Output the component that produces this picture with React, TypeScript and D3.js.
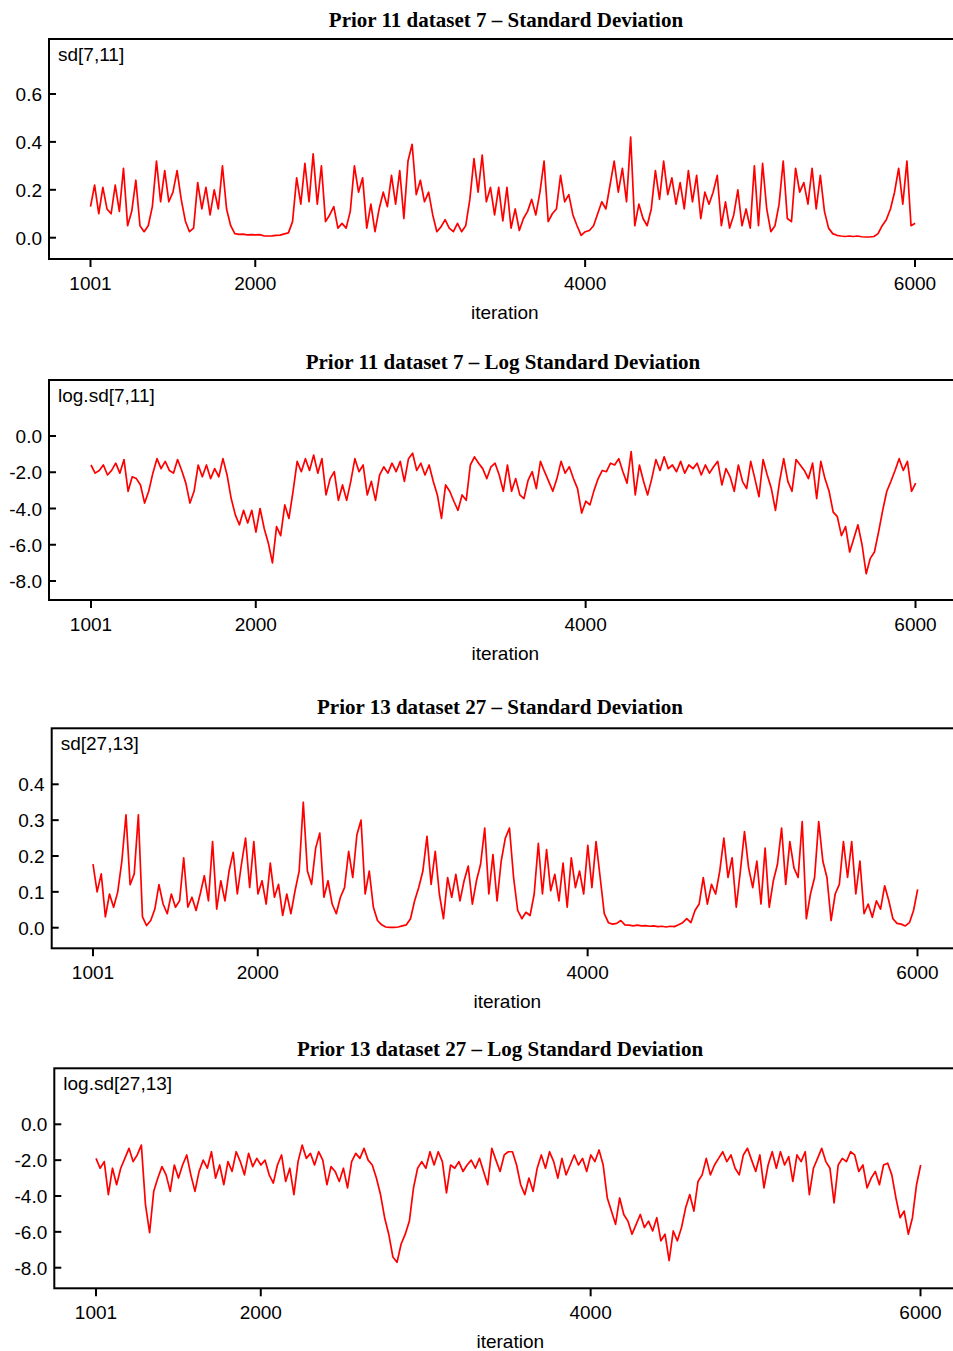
import React, { useRef, useEffect } from "react";
import * as d3 from "d3";

// iterations 1001..6001, one value read every 25 iterations
const START = 1001;
const STEP = 25;
const xTicks = [1001, 2000, 4000, 6000];
const xTickLabels = ["1001", "2000", "4000", "6000"];

const sdTicks7 = [0, 0.2, 0.4, 0.6];
const sdTickLabels7 = ["0.0", "0.2", "0.4", "0.6"];
const sdTicks27 = [0, 0.1, 0.2, 0.3, 0.4];
const sdTickLabels27 = ["0.0", "0.1", "0.2", "0.3", "0.4"];
const logTicks = [0, -2, -4, -6, -8];
const logTickLabels = ["0.0", "-2.0", "-4.0", "-6.0", "-8.0"];

const sd7_11 = [
  0.13, 0.22, 0.1, 0.21, 0.12, 0.1, 0.22, 0.11, 0.29, 0.05,
  0.11, 0.24, 0.05, 0.025, 0.05, 0.13, 0.32, 0.15, 0.28, 0.15,
  0.19, 0.28, 0.16, 0.07, 0.025, 0.04, 0.23, 0.12, 0.21, 0.095,
  0.2, 0.12, 0.3, 0.12, 0.05, 0.017, 0.014, 0.015, 0.012, 0.013,
  0.012, 0.013, 0.008, 0.007, 0.008, 0.01, 0.011, 0.016, 0.02, 0.067,
  0.25, 0.14, 0.31, 0.15, 0.35, 0.14, 0.3, 0.067, 0.095, 0.13,
  0.04, 0.06, 0.04, 0.11, 0.3, 0.19, 0.25, 0.04, 0.14, 0.025,
  0.12, 0.19, 0.13, 0.26, 0.14, 0.28, 0.08, 0.32, 0.39, 0.18,
  0.24, 0.15, 0.19, 0.095, 0.025, 0.045, 0.075, 0.04, 0.025, 0.06,
  0.025, 0.05, 0.16, 0.33, 0.19, 0.345, 0.15, 0.21, 0.095, 0.21,
  0.07,
  0.21, 0.04, 0.12, 0.03, 0.08, 0.11, 0.16, 0.095, 0.19, 0.32,
  0.067, 0.1, 0.12, 0.26, 0.15, 0.18, 0.095, 0.05, 0.01, 0.025,
  0.03, 0.05, 0.1, 0.15, 0.12, 0.22, 0.32, 0.19, 0.29, 0.15,
  0.42, 0.05, 0.14, 0.08, 0.05, 0.12, 0.28, 0.16, 0.32, 0.18,
  0.25, 0.14, 0.23, 0.12, 0.28, 0.15, 0.26, 0.08, 0.19, 0.14,
  0.19, 0.26, 0.05, 0.15, 0.04, 0.095, 0.2, 0.05, 0.12, 0.04,
  0.3, 0.05, 0.31, 0.12, 0.025, 0.05, 0.14, 0.32, 0.08, 0.067,
  0.29, 0.19, 0.23, 0.14, 0.29, 0.12, 0.26, 0.11, 0.04, 0.017,
  0.01, 0.007, 0.005, 0.007, 0.005, 0.007, 0.004, 0.003, 0.003, 0.005,
  0.017, 0.05, 0.075, 0.12, 0.19, 0.29, 0.14, 0.32, 0.05, 0.06,
];

const logsd7_11 = [
  -1.6, -2.05, -1.9, -1.6, -2.15, -1.9, -1.5, -2.05, -1.3, -3.05,
  -2.25, -2.35, -2.7, -3.7, -3.05, -2.05, -1.25, -1.8, -1.4, -1.9,
  -2.05, -1.3, -1.9, -2.6, -3.7, -3.05, -1.6, -2.25, -1.6, -2.35,
  -1.8, -2.25, -1.25, -2.15, -3.45, -4.35, -4.9, -4.1, -4.8, -4.1,
  -5.3, -4.0, -5.1, -5.9, -7.0, -5.0, -5.5, -3.8, -4.55, -3.05,
  -1.4, -1.97, -1.25, -1.9, -1.05, -2.05, -1.25, -3.25, -2.35, -1.97,
  -3.55, -2.7, -3.55, -2.5, -1.25, -1.97, -1.6, -3.25, -2.5, -3.55,
  -2.15, -1.7, -2.05, -1.5, -1.97, -1.4, -2.5, -1.25, -0.95, -1.9,
  -1.5, -2.15, -1.6, -2.5, -3.25, -4.55, -2.7, -3.05, -3.6, -4.1,
  -3.25, -3.55, -1.6, -1.15, -1.5, -1.8, -2.35, -1.7, -1.5, -2.15,
  -3.05,
  -1.6, -3.05, -2.35, -3.25, -3.45, -2.45, -1.97, -2.9, -1.4, -1.97,
  -2.5, -3.05, -2.35, -1.4, -2.05, -1.7, -2.35, -2.9, -4.25, -3.6,
  -3.8, -3.0, -2.35, -1.9, -1.97, -1.5, -1.6, -1.25, -1.97, -2.6,
  -0.86, -3.25, -1.6, -2.5, -3.25, -2.35, -1.3, -1.9, -1.15, -1.8,
  -1.6, -1.97, -1.4, -2.05, -1.6, -1.8, -1.5, -2.15, -1.6, -2.05,
  -1.7, -1.4, -2.7, -1.8, -2.25, -3.05, -1.6, -2.5, -2.9, -1.4,
  -2.35, -3.35, -1.3, -2.15, -2.9, -4.1, -2.5, -1.25, -2.5, -3.05,
  -1.3, -1.6, -1.9, -2.35, -1.5, -3.45, -1.4, -2.35, -3.05, -4.2,
  -4.45, -5.5, -5.0, -6.4, -5.65, -4.9, -6.0, -7.6, -6.75, -6.4,
  -5.3, -4.1, -3.05, -2.5, -1.9, -1.25, -1.9, -1.4, -3.05, -2.6,
];

const sd27_13 = [
  0.177, 0.1, 0.15, 0.03, 0.094, 0.057, 0.1, 0.186, 0.315, 0.12,
  0.15, 0.315, 0.03, 0.006, 0.02, 0.052, 0.12, 0.066, 0.039, 0.094,
  0.057, 0.075, 0.195, 0.057, 0.085, 0.048, 0.094, 0.145, 0.075, 0.24,
  0.052, 0.131, 0.075, 0.158, 0.21, 0.094, 0.177, 0.25, 0.112, 0.24,
  0.094, 0.131, 0.066, 0.18, 0.085, 0.121, 0.034, 0.094, 0.039, 0.103,
  0.158, 0.35, 0.158, 0.121, 0.222, 0.264, 0.085, 0.131, 0.066, 0.039,
  0.085, 0.112, 0.213, 0.14, 0.259, 0.3, 0.094, 0.158, 0.057, 0.02,
  0.008, 0.002, 0.001, 0.001, 0.002, 0.005, 0.008, 0.025, 0.075, 0.112,
  0.158, 0.255, 0.121, 0.213, 0.094, 0.025, 0.14, 0.085, 0.149, 0.075,
  0.131, 0.172, 0.066, 0.131, 0.177, 0.278, 0.094, 0.204, 0.075, 0.186,
  0.25,
  0.278, 0.14, 0.048, 0.025, 0.043, 0.034, 0.094, 0.235, 0.094, 0.218,
  0.103, 0.149, 0.075, 0.18, 0.057, 0.195, 0.112, 0.158, 0.094, 0.23,
  0.112, 0.24, 0.14, 0.039, 0.014, 0.01, 0.012, 0.02, 0.008, 0.007,
  0.005, 0.007, 0.005, 0.006, 0.004, 0.005, 0.003, 0.004, 0.002, 0.004,
  0.003, 0.008, 0.014, 0.025, 0.014, 0.048, 0.066, 0.14, 0.066, 0.121,
  0.094, 0.158, 0.25, 0.14, 0.195, 0.057, 0.158, 0.268, 0.167, 0.112,
  0.186, 0.066, 0.222, 0.057, 0.131, 0.177, 0.278, 0.121, 0.24, 0.167,
  0.14, 0.296, 0.025, 0.094, 0.14, 0.296, 0.186, 0.14, 0.02, 0.094,
  0.121, 0.24, 0.14, 0.24, 0.094, 0.186, 0.039, 0.066, 0.029, 0.075,
  0.052, 0.117, 0.075, 0.025, 0.012, 0.01, 0.005, 0.014, 0.048, 0.107,
];

const logsd27_13 = [
  -1.9, -2.45, -2.08, -3.92, -2.45, -3.37, -2.45, -1.9, -1.34, -2.08,
  -1.71, -1.16, -4.48, -6.05, -3.74, -3.0, -2.36, -2.82, -3.74, -2.27,
  -3.0, -2.27, -1.71, -2.82, -3.74, -2.63, -2.0, -2.45, -1.53, -3.0,
  -2.27, -3.37, -2.08, -2.63, -1.53, -2.08, -2.82, -1.62, -2.36, -1.9,
  -2.27, -2.0, -2.82, -3.28, -2.27, -1.71, -3.19, -2.45, -3.92, -2.08,
  -1.16, -1.9, -1.62, -2.27, -1.53, -2.0, -3.37, -2.36, -2.63, -3.19,
  -2.45, -3.55, -2.08, -1.62, -1.9, -1.34, -2.0, -2.27, -3.0, -3.92,
  -5.21, -6.13, -7.4, -7.7, -6.68, -6.13, -5.4, -3.55, -2.45, -2.08,
  -2.45, -1.53, -2.27, -1.53, -2.08, -3.83, -2.27, -2.45, -2.08, -2.63,
  -2.27, -2.0, -2.45, -1.9, -2.63, -3.37, -1.34, -2.0, -2.63, -1.71,
  -1.53,
  -1.53, -2.27, -3.37, -3.92, -3.0, -3.74, -2.45, -1.71, -2.45, -1.53,
  -2.08, -3.0, -1.9, -2.82, -2.27, -1.71, -2.27, -1.9, -2.63, -1.71,
  -2.08, -1.43, -2.27, -4.11, -4.84, -5.58, -4.11, -5.03, -5.4, -6.13,
  -5.58, -5.03, -5.76, -5.4, -5.95, -5.21, -6.5, -6.13, -7.6, -5.95,
  -6.5, -5.76, -4.66, -3.92, -4.84, -3.19, -2.82, -1.9, -2.82, -2.27,
  -1.9, -1.53, -2.08, -1.71, -2.45, -2.82, -1.71, -1.34, -2.0, -2.63,
  -1.71, -3.55, -2.27, -1.53, -2.45, -1.53, -2.27, -1.8, -3.19, -1.71,
  -2.08, -1.53, -3.92, -2.45, -1.9, -1.34, -2.08, -2.45, -4.38, -2.27,
  -1.9, -2.08, -1.53, -1.71, -2.63, -2.27, -3.55, -3.0, -2.63, -3.37,
  -2.27, -2.17, -2.82, -4.11, -5.21, -4.84, -6.13, -5.21, -3.37, -2.27,
];

// layout of the four stacked trace panels
const panels = [
  {
    title: "Prior 11 dataset 7 \u2013 Standard Deviation",
    node: "sd[7,11]",
    values: sd7_11,
    ticks: sdTicks7,
    tickLabels: sdTickLabels7,
    left: 49, top: 39, bottom: 259,
    xRange: [90.5, 915], yDomain: [0, 0.6], yRange: [237.7, 94],
    titleX: 506, titleY: 27,
  },
  {
    title: "Prior 11 dataset 7 \u2013 Log Standard Deviation",
    node: "log.sd[7,11]",
    values: logsd7_11,
    ticks: logTicks,
    tickLabels: logTickLabels,
    left: 49, top: 380, bottom: 600,
    xRange: [91, 915.5], yDomain: [0, -8], yRange: [436, 581],
    titleX: 503, titleY: 369,
  },
  {
    title: "Prior 13 dataset 27 \u2013 Standard Deviation",
    node: "sd[27,13]",
    values: sd27_13,
    ticks: sdTicks27,
    tickLabels: sdTickLabels27,
    left: 51.7, top: 728.3, bottom: 948.3,
    xRange: [93, 917.5], yDomain: [0, 0.4], yRange: [927.7, 784.3],
    titleX: 500, titleY: 714,
  },
  {
    title: "Prior 13 dataset 27 \u2013 Log Standard Deviation",
    node: "log.sd[27,13]",
    values: logsd27_13,
    ticks: logTicks,
    tickLabels: logTickLabels,
    left: 54.3, top: 1068.3, bottom: 1288.3,
    xRange: [96, 920.5], yDomain: [0, -8], yRange: [1124.3, 1267.7],
    titleX: 500, titleY: 1056,
  },
];

const SANS = "'Liberation Sans', Arial, Helvetica, sans-serif";
const SERIF = "'Liberation Serif', 'Times New Roman', serif";

export default function App() {
  const svgRef = useRef<SVGSVGElement>(null);

  useEffect(() => {
    const svg = d3.select(svgRef.current);
    svg.selectAll("*").remove();

    panels.forEach((p) => {
      const x = d3.scaleLinear().domain([1001, 6000]).range(p.xRange);
      const y = d3.scaleLinear().domain(p.yDomain).range(p.yRange);
      const g = svg.append("g");

      // title
      g.append("text")
        .attr("x", p.titleX)
        .attr("y", p.titleY)
        .attr("text-anchor", "middle")
        .attr("font-family", SERIF)
        .attr("font-weight", "bold")
        .attr("font-size", 21)
        .text(p.title);

      // trace
      const line = d3
        .line<number>()
        .x((d, i) => x(START + i * STEP))
        .y((d) => y(d));

      g.append("path")
        .datum(p.values)
        .attr("d", line)
        .attr("fill", "none")
        .attr("stroke", "#ff0000")
        .attr("stroke-width", 1.7)
        .attr("stroke-linejoin", "round");

      // frame, right side runs off the page
      g.append("rect")
        .attr("x", p.left)
        .attr("y", p.top)
        .attr("width", 965 - p.left)
        .attr("height", p.bottom - p.top)
        .attr("fill", "none")
        .attr("stroke", "#000")
        .attr("stroke-width", 2);

      // y ticks point inward
      p.ticks.forEach((t, k) => {
        g.append("line")
          .attr("x1", p.left)
          .attr("x2", p.left + 7)
          .attr("y1", y(t))
          .attr("y2", y(t))
          .attr("stroke", "#000")
          .attr("stroke-width", 2);
        g.append("text")
          .attr("x", p.left - 7)
          .attr("y", y(t) + 7)
          .attr("text-anchor", "end")
          .attr("font-family", SANS)
          .attr("font-size", 19)
          .text(p.tickLabels[k]);
      });

      // x ticks point outward
      xTicks.forEach((t, k) => {
        g.append("line")
          .attr("x1", x(t))
          .attr("x2", x(t))
          .attr("y1", p.bottom)
          .attr("y2", p.bottom + 8)
          .attr("stroke", "#000")
          .attr("stroke-width", 2);
        g.append("text")
          .attr("x", x(t))
          .attr("y", p.bottom + 31)
          .attr("text-anchor", "middle")
          .attr("font-family", SANS)
          .attr("font-size", 19)
          .text(xTickLabels[k]);
      });

      g.append("text")
        .attr("x", p.left + 9)
        .attr("y", p.top + 22)
        .attr("font-family", SANS)
        .attr("font-size", 19)
        .text(p.node);

      g.append("text")
        .attr("x", (x(1001) + x(6000)) / 2 + 2)
        .attr("y", p.bottom + 60)
        .attr("text-anchor", "middle")
        .attr("font-family", SANS)
        .attr("font-size", 19)
        .text("iteration");
    });
  }, []);

  return (
    <div style={{ position: "absolute", left: 0, top: 0 }}>
      <svg ref={svgRef} width={953} height={1351} style={{ display: "block" }}></svg>
    </div>
  );
}
